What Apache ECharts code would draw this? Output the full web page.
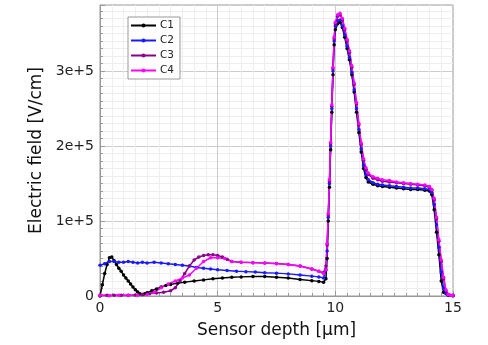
<!DOCTYPE html>
<html>
<head>
<meta charset="utf-8">
<script src="https://cdn.jsdelivr.net/npm/echarts@6/dist/echarts.min.js"></script>
<style>
  html, body { margin: 0; padding: 0; background: #fff; }
  #chart { width: 488px; height: 345px; }
</style>
</head>
<body>
<div id="chart"></div>
<script>
// series names
var names = ['C1', 'C2', 'C3', 'C4'];
var colors = ['#000000', '#1a1aff', '#8b008b', '#ff00ff'];

// C1 (black)
var c1X = [0, 0.1, 0.2, 0.3, 0.4, 0.5, 0.6, 0.7, 0.8, 0.9, 1.0, 1.1, 1.2, 1.3, 1.4, 1.5, 1.6, 1.7, 1.8, 1.9, 2.0, 2.2, 2.4, 2.6, 2.8, 3.0, 3.3, 3.6, 4.0, 4.4, 4.8, 5.2, 5.6, 6.0, 6.5, 7.0, 7.5, 8.0, 8.5, 9.0, 9.3, 9.5, 9.6, 9.65, 9.7, 9.75, 9.8, 9.85, 9.9, 9.95, 10.0, 10.1, 10.2, 10.3, 10.4, 10.5, 10.6, 10.7, 10.8, 10.9, 11.0, 11.1, 11.2, 11.3, 11.4, 11.6, 11.8, 12.0, 12.3, 12.6, 12.9, 13.2, 13.5, 13.8, 14.0, 14.1, 14.2, 14.3, 14.4, 14.5, 14.6, 14.8, 15.0];
var c1Y = [0, 15000, 30000, 42000, 51000, 52000, 47000, 42000, 37000, 33000, 28000, 24000, 20000, 16000, 12000, 8500, 5500, 3000, 2000, 3000, 4500, 7000, 9500, 12000, 14000, 15500, 17000, 18500, 20000, 21500, 23000, 24000, 25000, 25500, 26000, 26000, 25000, 24000, 22000, 20500, 19500, 18500, 23000, 50000, 100000, 145000, 195000, 245000, 295000, 335000, 355000, 363000, 365000, 358000, 345000, 330000, 315000, 295000, 272000, 245000, 218000, 192000, 170000, 158000, 152000, 149000, 147000, 146000, 145000, 144000, 143000, 142000, 142000, 141000, 140000, 135000, 115000, 85000, 55000, 20000, 5000, 1000, 500];

// C2 (blue)
var c2X = [0, 0.2, 0.4, 0.6, 0.8, 1.0, 1.2, 1.4, 1.6, 1.8, 2.0, 2.3, 2.6, 2.9, 3.2, 3.5, 3.8, 4.1, 4.4, 4.7, 5.0, 5.4, 5.8, 6.2, 6.6, 7.0, 7.5, 8.0, 8.5, 9.0, 9.3, 9.5, 9.6, 9.65, 9.7, 9.75, 9.8, 9.85, 9.9, 9.95, 10.0, 10.1, 10.2, 10.3, 10.4, 10.5, 10.6, 10.7, 10.8, 10.9, 11.0, 11.1, 11.2, 11.3, 11.4, 11.6, 11.8, 12.0, 12.3, 12.6, 12.9, 13.2, 13.5, 13.8, 14.0, 14.1, 14.2, 14.3, 14.4, 14.5, 14.6, 14.7, 14.85, 15.0];
var c2Y = [41000, 43000, 46000, 46000, 45000, 45000, 46000, 45000, 44000, 45000, 44000, 45000, 44000, 43000, 42000, 41000, 40000, 38000, 37000, 36000, 35000, 34000, 33000, 32500, 32000, 31000, 30500, 29500, 28000, 26500, 25500, 24000, 35000, 60000, 105000, 150000, 200000, 250000, 300000, 340000, 360000, 367000, 368000, 360000, 348000, 333000, 318000, 298000, 275000, 250000, 222000, 196000, 174000, 162000, 155000, 151000, 149000, 148000, 147000, 146000, 145000, 144000, 144000, 143000, 142000, 138000, 122000, 95000, 65000, 32000, 10000, 3000, 1000, 500];

// C3 (purple)
var c3X = [0, 0.3, 0.6, 0.9, 1.2, 1.5, 1.8, 2.1, 2.4, 2.7, 3.0, 3.2, 3.4, 3.6, 3.8, 4.0, 4.2, 4.4, 4.6, 4.8, 5.0, 5.2, 5.4, 5.6, 6.0, 6.5, 7.0, 7.5, 8.0, 8.5, 9.0, 9.3, 9.5, 9.6, 9.65, 9.7, 9.75, 9.8, 9.85, 9.9, 9.95, 10.0, 10.1, 10.2, 10.3, 10.4, 10.5, 10.6, 10.7, 10.8, 10.9, 11.0, 11.1, 11.2, 11.3, 11.4, 11.6, 11.8, 12.0, 12.3, 12.6, 12.9, 13.2, 13.5, 13.8, 14.0, 14.1, 14.2, 14.3, 14.4, 14.5, 14.6, 14.7, 14.8, 15.0];
var c3Y = [1000, 1000, 1000, 1000, 1000, 1500, 2000, 3000, 4000, 5000, 7000, 11000, 20000, 30000, 40000, 48000, 52000, 54000, 55000, 55000, 54000, 52000, 49000, 46000, 45000, 44500, 44000, 43500, 42000, 40000, 36000, 33000, 31000, 40000, 68000, 108000, 153000, 203000, 253000, 303000, 343000, 363000, 373000, 375000, 368000, 355000, 340000, 325000, 305000, 282000, 256000, 228000, 202000, 181000, 169000, 162000, 157000, 155000, 153000, 152000, 151000, 150000, 149000, 148000, 147000, 145000, 141000, 128000, 103000, 73000, 46000, 23000, 7000, 2000, 1000];

// C4 (magenta)
var c4X = [0, 0.4, 0.8, 1.2, 1.6, 2.0, 2.3, 2.6, 2.9, 3.2, 3.5, 3.8, 4.1, 4.4, 4.7, 5.0, 5.3, 5.6, 6.0, 6.5, 7.0, 7.5, 8.0, 8.5, 9.0, 9.3, 9.5, 9.6, 9.65, 9.7, 9.75, 9.8, 9.85, 9.9, 9.95, 10.0, 10.1, 10.2, 10.3, 10.4, 10.5, 10.6, 10.7, 10.8, 10.9, 11.0, 11.1, 11.2, 11.3, 11.4, 11.6, 11.8, 12.0, 12.3, 12.6, 12.9, 13.2, 13.5, 13.8, 14.0, 14.1, 14.2, 14.3, 14.4, 14.5, 14.6, 14.7, 14.8, 14.9, 15.0];
var c4Y = [1000, 500, 1000, 1000, 1000, 2000, 5000, 11000, 16000, 20000, 24000, 28000, 37000, 46000, 51000, 51000, 50000, 46000, 45000, 44500, 44000, 43000, 42000, 40000, 36000, 33000, 30000, 35000, 70000, 110000, 155000, 205000, 255000, 305000, 345000, 365000, 375000, 377000, 370000, 357000, 342000, 327000, 307000, 284000, 258000, 230000, 204000, 183000, 171000, 164000, 159000, 157000, 155000, 154000, 152000, 151000, 150000, 149000, 148000, 146000, 142000, 130000, 105000, 75000, 48000, 25000, 8000, 2000, 1000, 1000];

var xs = [c1X, c2X, c3X, c4X];
var ys = [c1Y, c2Y, c3Y, c4Y];

var chart = echarts.init(document.getElementById('chart'));

var series = [];
for (var i = 0; i < names.length; i++) {
  var pts = [];
  for (var j = 0; j < xs[i].length; j++) {
    pts.push([xs[i][j], ys[i][j]]);
  }
  series.push({
    name: names[i],
    type: 'line',
    data: pts,
    symbol: 'circle',
    symbolSize: 3.5,
    showAllSymbol: true,
    lineStyle: { width: 1.5, color: colors[i] },
    itemStyle: { color: colors[i] },
    animation: false
  });
}

var fontFam = 'DejaVu Sans';

chart.setOption({
  animation: false,
  textStyle: { fontFamily: fontFam },
  grid: {
    left: 100, right: 35, top: 5, bottom: 49,
    show: true, borderColor: '#999', borderWidth: 1
  },
  legend: {
    data: names,
    orient: 'vertical',
    left: 128, top: 17,
    itemWidth: 25, itemHeight: 5, itemGap: 4,
    padding: [3, 6, 3, 2],
    borderColor: '#999', borderWidth: 1,
    backgroundColor: '#fff',
    textStyle: { fontSize: 10.5, color: '#222', fontFamily: fontFam, padding: [0, 0, 0, -1] }
  },
  xAxis: {
    type: 'value',
    min: 0, max: 15, interval: 5,
    name: 'Sensor depth [\u03bcm]',
    nameLocation: 'middle',
    nameGap: 26,
    nameTextStyle: { fontSize: 17, color: '#111', fontFamily: fontFam },
    axisLine: { lineStyle: { color: '#999' } },
    axisTick: { inside: true, length: 5, lineStyle: { color: '#999' } },
    minorTick: { show: true, splitNumber: 10, length: 3, lineStyle: { color: '#999' } },
    axisLabel: { fontSize: 14, color: '#222', margin: 5, fontFamily: fontFam },
    splitLine: { show: true, lineStyle: { color: '#ccc' } },
    minorSplitLine: { show: true, lineStyle: { color: '#eee' } }
  },
  yAxis: {
    type: 'value',
    min: 0, max: 388000, interval: 100000,
    name: 'Electric field [V/cm]',
    nameLocation: 'middle',
    nameGap: 51,
    nameTextStyle: { fontSize: 17, color: '#111', fontFamily: fontFam },
    axisLine: { show: true, lineStyle: { color: '#999' } },
    axisTick: { inside: true, length: 5, lineStyle: { color: '#999' } },
    minorTick: { show: true, splitNumber: 10, length: 3, lineStyle: { color: '#999' } },
    axisLabel: {
      fontSize: 14, color: '#222', margin: 6, fontFamily: fontFam,
      showMaxLabel: false,
      formatter: function (v) { return v === 0 ? '0' : (v / 100000) + 'e+5'; }
    },
    splitLine: { show: true, lineStyle: { color: '#ccc' } },
    minorSplitLine: { show: true, lineStyle: { color: '#eee' } }
  },
  series: series
});
</script>
</body>
</html>
